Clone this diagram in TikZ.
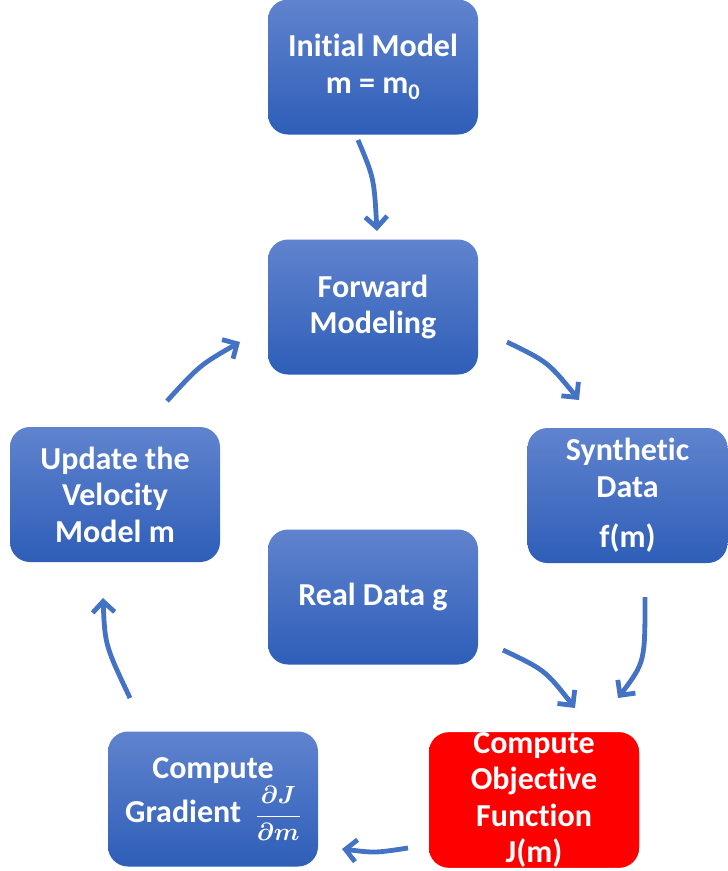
\documentclass[tikz,border=0pt]{standalone}
\usepackage{fontspec}
\setmainfont{Carlito}[Ligatures={NoCommon}]
\usetikzlibrary{arrows.meta}
\definecolor{boxtop}{RGB}{96,131,206}
\definecolor{boxbot}{RGB}{46,94,184}
\definecolor{arrblue}{RGB}{68,114,196}
\definecolor{objred}{RGB}{255,0,0}
\tikzset{
  flowbox/.style={rectangle, rounded corners=20pt, minimum width=210pt, minimum height=135pt,
    inner sep=0pt, align=center, text=white,
    font=\fontsize{32}{36.5}\selectfont\bfseries,
    top color=boxtop, bottom color=boxbot},
  redbox/.style={flowbox, top color=objred, bottom color=objred, fill=objred},
  flowarrow/.style={draw=arrblue, line width=4.8pt, -{Straight Barb[length=11pt,width=22pt]}}
}
\begin{document}
\begin{tikzpicture}[x=1pt,y=-1pt]
\useasboundingbox (0,0) rectangle (728,871);
\node[flowbox] (init) at (373,67) {Initial Model\\m = m\textsubscript{0}};
\node[flowbox] (fwd) at (373,307) {Forward\\Modeling};
\node[flowbox, minimum width=200pt] (syn) at (627.5,495.5) {Synthetic\\Data\\[14pt]f(m)};
\node[flowbox] (upd) at (115,494.5) {Update the\\Velocity\\Model m};
\node[flowbox] (real) at (373,597) {Real Data g};
\node[flowbox] (grad) at (213,799) {Compute\\[2pt]Gradient \ {\fontsize{26}{30}\selectfont\boldmath$\displaystyle\frac{\partial J}{\partial m}$}};
\node[redbox] (obj) at (534,800) {Compute\\Objective\\Function\\J(m)};
% arrow end points
\coordinate (a1s) at (358,140); \coordinate (a1e) at (377,231);
\coordinate (a2s) at (507,342); \coordinate (a2e) at (579,400);
\coordinate (a3s) at (645,597); \coordinate (a3e) at (618,698);
\coordinate (a4s) at (503,650); \coordinate (a4e) at (575,708);
\coordinate (a5s) at (408,848); \coordinate (a5e) at (342,849);
\coordinate (a6s) at (130,698); \coordinate (a6e) at (103,598);
\coordinate (a7s) at (167,401); \coordinate (a7e) at (240,342);
\draw[flowarrow] (a1s) .. controls (374,178) .. (a1e);
\draw[flowarrow] (a2s) .. controls (548,362) .. (a2e);
\draw[flowarrow] (a3s) .. controls (645,662) .. (a3e);
\draw[flowarrow] (a4s) .. controls (545,670) .. (a4e);
\draw[flowarrow] (a5s) .. controls (375,853) .. (a5e);
\draw[flowarrow] (a6s) .. controls (105,645) .. (a6e);
\draw[flowarrow] (a7s) .. controls (200,365) .. (a7e);
\end{tikzpicture}
\end{document}
